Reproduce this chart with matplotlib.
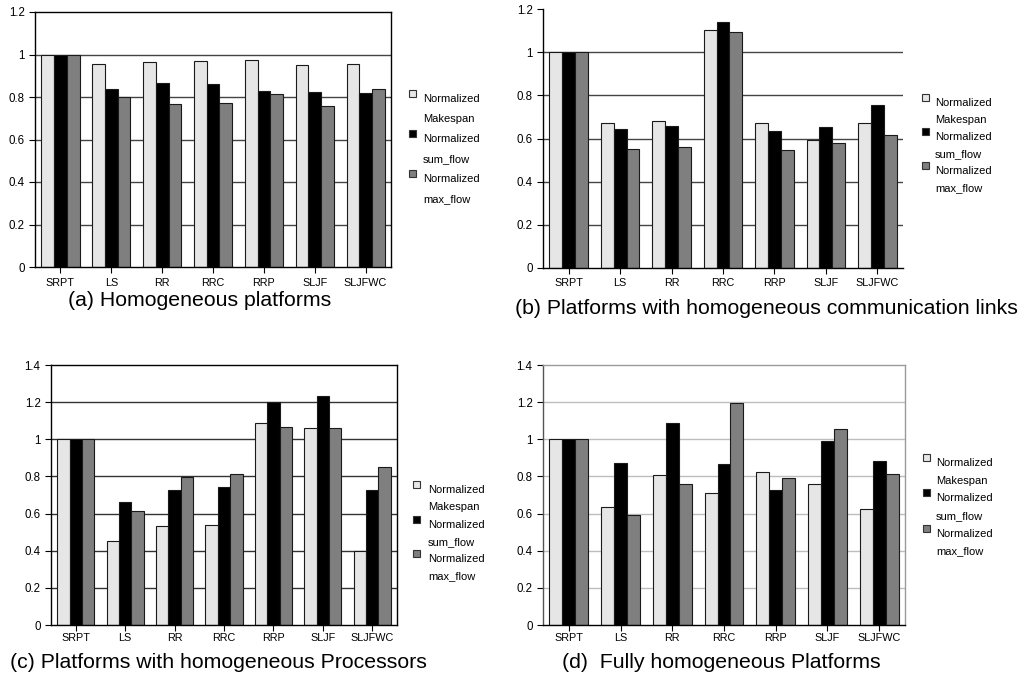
import matplotlib.pyplot as plt
from matplotlib.patches import Rectangle
import numpy as np

plt.rcParams['font.family'] = ['Liberation Sans', 'DejaVu Sans']

W, H = 1030, 682

heuristics = ["SRPT", "LS", "RR", "RRC", "RRP", "SLJF", "SLJFWC"]
series_names = ["Normalized\nMakespan", "Normalized\nsum_flow", "Normalized\nmax_flow"]
colors = ["#e6e6e6", "#000000", "#7f7f7f"]

# (a) Homogeneous platforms
a_makespan = [1.0, 0.955, 0.967, 0.969, 0.972, 0.952, 0.955]
a_sumflow = [1.0, 0.840, 0.867, 0.860, 0.830, 0.824, 0.820]
a_maxflow = [1.0, 0.802, 0.766, 0.771, 0.812, 0.757, 0.837]

# (b) homogeneous communication links
b_makespan = [1.0, 0.670, 0.683, 1.103, 0.672, 0.592, 0.672]
b_sumflow = [1.0, 0.646, 0.658, 1.141, 0.636, 0.653, 0.755]
b_maxflow = [1.0, 0.550, 0.559, 1.094, 0.545, 0.581, 0.616]

# (c) homogeneous processors
c_makespan = [1.0, 0.451, 0.535, 0.540, 1.086, 1.061, 0.400]
c_sumflow = [1.0, 0.661, 0.729, 0.741, 1.203, 1.233, 0.727]
c_maxflow = [1.0, 0.616, 0.797, 0.813, 1.068, 1.063, 0.849]

# (d) fully homogeneous
d_makespan = [1.0, 0.636, 0.806, 0.709, 0.826, 0.758, 0.623]
d_sumflow = [1.0, 0.871, 1.086, 0.865, 0.729, 0.993, 0.883]
d_maxflow = [1.0, 0.591, 0.761, 1.197, 0.792, 1.056, 0.815]

captions = ["(a) Homogeneous platforms",
            "(b) Platforms with homogeneous communication links",
            "(c) Platforms with homogeneous Processors",
            "(d)  Fully homogeneous Platforms"]


def px(x0, y0, x1, y1):
    # pixel box (top-left origin) -> figure fraction rect
    return [x0 / W, 1 - y1 / H, (x1 - x0) / W, (y1 - y0) / H]


fig = plt.figure(figsize=(W / 100, H / 100), dpi=100)

panels = [
    dict(box=(35, 12, 391, 267), data=(a_makespan, a_sumflow, a_maxflow), ymax=1.2,
         grid="#444444", frame="#000000", top=True, leg=(409, 423, 99, 20), cap=(200, 300), pad=4),
    dict(box=(543, 9, 903, 268), data=(b_makespan, b_sumflow, b_maxflow), ymax=1.2,
         grid="#444444", frame="#000000", top=False, leg=(922, 935, 103, 17), cap=(766, 308), pad=3),
    dict(box=(51, 365, 397, 625), data=(c_makespan, c_sumflow, c_maxflow), ymax=1.4,
         grid="#333333", frame="#000000", top=True, leg=(413, 428, 490, 17.3), cap=(218, 662), pad=2),
    dict(box=(543, 365, 905, 625), data=(d_makespan, d_sumflow, d_maxflow), ymax=1.4,
         grid="#bdbdbd", frame="#9a9a9a", top=True, leg=(923, 936, 463, 17.7), cap=(721, 662), pad=2),
]

x = np.arange(len(heuristics))
bw = 0.25

for i, p in enumerate(panels):
    ax = fig.add_axes(px(*p["box"]))
    for k, vals in enumerate(p["data"]):
        ax.bar(x + (k - 1) * bw, vals, bw, color=colors[k], edgecolor="#1a1a1a",
               linewidth=0.8, zorder=2)
    ax.set_xlim(-0.5, 6.5)
    ax.set_ylim(0, p["ymax"])
    yt = np.arange(0, p["ymax"] + 0.01, 0.2)
    ax.set_yticks(yt)
    ax.set_yticklabels(["0" if v < 0.01 else ("1" if abs(v - 1) < 0.01 else "%.1f" % v) for v in yt])
    ax.set_xticks(x)
    ax.set_xticklabels(heuristics)
    for v in yt[1:]:
        if abs(v - p["ymax"]) > 0.01:
            ax.axhline(v, color=p["grid"], lw=1, zorder=1)
    ax.tick_params(axis="both", direction="out", length=4, width=0.8, labelsize=8.3)
    ax.tick_params(axis="x", pad=p["pad"], labelsize=7.8)
    for s in ["left", "bottom"]:
        ax.spines[s].set_color("#000000" if i < 3 or s == "bottom" else "#555555")
        ax.spines[s].set_linewidth(1)
    for s in ["top", "right"]:
        ax.spines[s].set_visible(p["top"])
        ax.spines[s].set_color(p["frame"])
        ax.spines[s].set_linewidth(1)

    # legend: square handle at the top of a two-line label
    sx, tx, ly, lh = p["leg"]
    for k, name in enumerate(series_names):
        cy = ly + k * 2 * lh
        fig.patches.append(Rectangle((sx / W, 1 - (cy - 2) / H), 7 / W, 7 / H,
                                     transform=fig.transFigure, facecolor=colors[k],
                                     edgecolor="#333333", linewidth=0.8))
        for j, line in enumerate(name.split("\n")):
            fig.text(tx / W, 1 - (cy + j * lh) / H, line, fontsize=8, va="center", ha="left")

    cx, cy = p["cap"]
    fig.text(cx / W, 1 - cy / H, captions[i], fontsize=15.3, ha="center", va="center")

fig.savefig("out.png", dpi=100)
